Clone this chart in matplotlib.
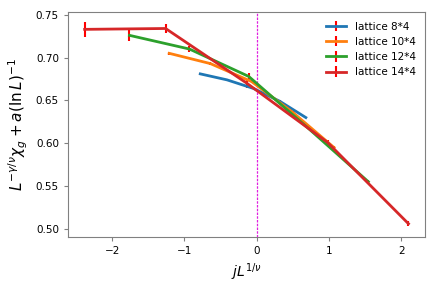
import matplotlib
matplotlib.use("Agg")
import matplotlib.pyplot as plt

labels = ["lattice 8*4", "lattice 10*4", "lattice 12*4", "lattice 14*4"]

x8 = [-0.78, -0.41, -0.045, 0.32, 0.68]
y8 = [0.681, 0.674, 0.664, 0.649, 0.630]
e8 = [0.001, 0.001, 0.001, 0.001, 0.001]

x10 = [-1.21, -0.64, -0.07, 0.50, 1.07]
y10 = [0.705, 0.693, 0.672, 0.636, 0.595]
e10 = [0.002, 0.002, 0.002, 0.002, 0.002]

x12 = [-1.76, -0.93, -0.11, 0.72, 1.545]
y12 = [0.726, 0.710, 0.678, 0.617, 0.555]
e12 = [0.0067, 0.004, 0.004, 0.002, 0.002]

x14 = [-2.38, -1.26, -0.135, 0.98, 2.10]
y14 = [0.733, 0.734, 0.670, 0.601, 0.506]
e14 = [0.0085, 0.0047, 0.005, 0.003, 0.003]

plt.rcParams["axes.edgecolor"] = "gray"

fig = plt.figure(figsize=(4.36, 2.91), dpi=100)
ax = fig.add_axes([0.156, 0.187, 0.819, 0.771])

for xs, ys, es, lab in zip([x8, x10, x12, x14], [y8, y10, y12, y14],
                           [e8, e10, e12, e14], labels):
    ax.errorbar(xs, ys, yerr=es, ecolor="red", lw=2, elinewidth=1.5, label=lab)

ax.axvline(0, color="#e020e0", ls=(0, (2, 1)), lw=0.9, zorder=0)

ax.set_xlim(-2.61, 2.33)
ax.set_ylim(0.491, 0.753)
ax.set_xticks([-2, -1, 0, 1, 2])
ax.set_yticks([0.50, 0.55, 0.60, 0.65, 0.70, 0.75])
ax.tick_params(labelsize=7.5, color="gray", length=3)
ax.set_xlabel(r"$jL^{1/\nu}$", fontsize=10)
ax.set_ylabel(r"$L^{-\gamma/\nu}\chi_g+a(\ln L)^{-1}$", fontsize=11)
ax.legend(loc="upper right", frameon=False, fontsize=7.5)

plt.savefig("out.png", dpi=100)
